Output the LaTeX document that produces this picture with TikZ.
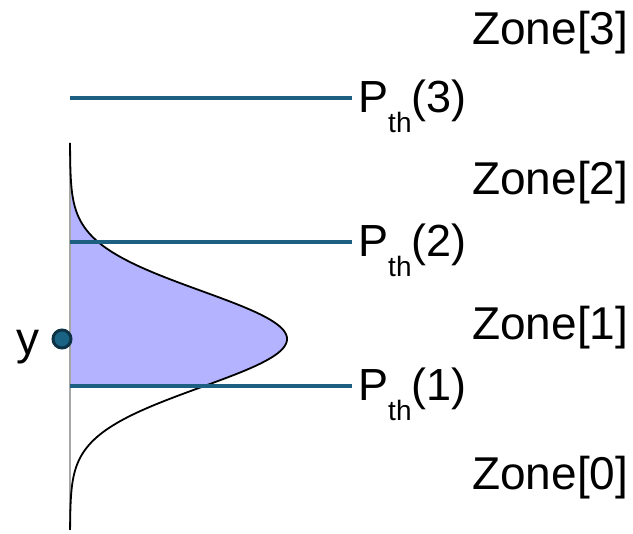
\documentclass[tikz,border=0pt]{standalone}
\usepackage{fontspec}
\setmainfont{Liberation Sans}
\definecolor{thline}{HTML}{1D5F80}
\definecolor{shadecol}{HTML}{B3B3FF}
\definecolor{dotfill}{HTML}{1B6384}
\definecolor{dotdraw}{HTML}{0E3346}
\newcommand{\subth}{\raisebox{-20pt}{\fontsize{28}{28}\selectfont th}}
\begin{document}
\begin{tikzpicture}[x=1pt,y=-1pt,
  thr/.style={draw=thline,line width=3.5pt},
  lbl/.style={inner sep=0pt,anchor=base west,font=\fontsize{45}{50}\selectfont},
  zone/.style={inner sep=0pt,anchor=base west,font=\fontsize{46}{50}\selectfont}]
\useasboundingbox (0,0) rectangle (633,534);
% shaded area
\fill[shadecol] plot[domain=143:386,samples=120,smooth] ({70+217*exp(-(((\x-339)/48)^2)/2)},\x) -- (70,386) -- (70,143) -- cycle;
% axis
\coordinate (atop) at (70,143);
\coordinate (abot) at (70,530);
\draw[gray!70,line width=1.3pt] (atop) -- (abot);
% gaussian
\draw[black,line width=1.8pt] plot[domain=143:530,samples=200,smooth] ({70+217*exp(-(((\x-339)/48)^2)/2)},\x);
% thresholds
\node[lbl] (p3) at (358,113) {P\subth(3)};
\node[lbl] (p2) at (358,257) {P\subth(2)};
\node[lbl] (p1) at (358,401) {P\subth(1)};
\coordinate (s3) at (70,98);  \coordinate (e3) at (352,98);
\coordinate (s2) at (70,242); \coordinate (e2) at (352,242);
\coordinate (s1) at (70,386); \coordinate (e1) at (352,386);
\draw[thr] (s3) -- (e3);
\draw[thr] (s2) -- (e2);
\draw[thr] (s1) -- (e1);
% zones
\node[zone] (z3) at (472,45) {Zone[3]};
\node[zone] (z2) at (472,195) {Zone[2]};
\node[zone] (z1) at (472,340) {Zone[1]};
\node[zone] (z0) at (472,490) {Zone[0]};
% y point
\node[circle,fill=dotfill,draw=dotdraw,line width=3pt,minimum size=18pt,inner sep=0pt] (ydot) at (62,339) {};
\node[zone] (ylab) at (16,355) {y};
\end{tikzpicture}
\end{document}
